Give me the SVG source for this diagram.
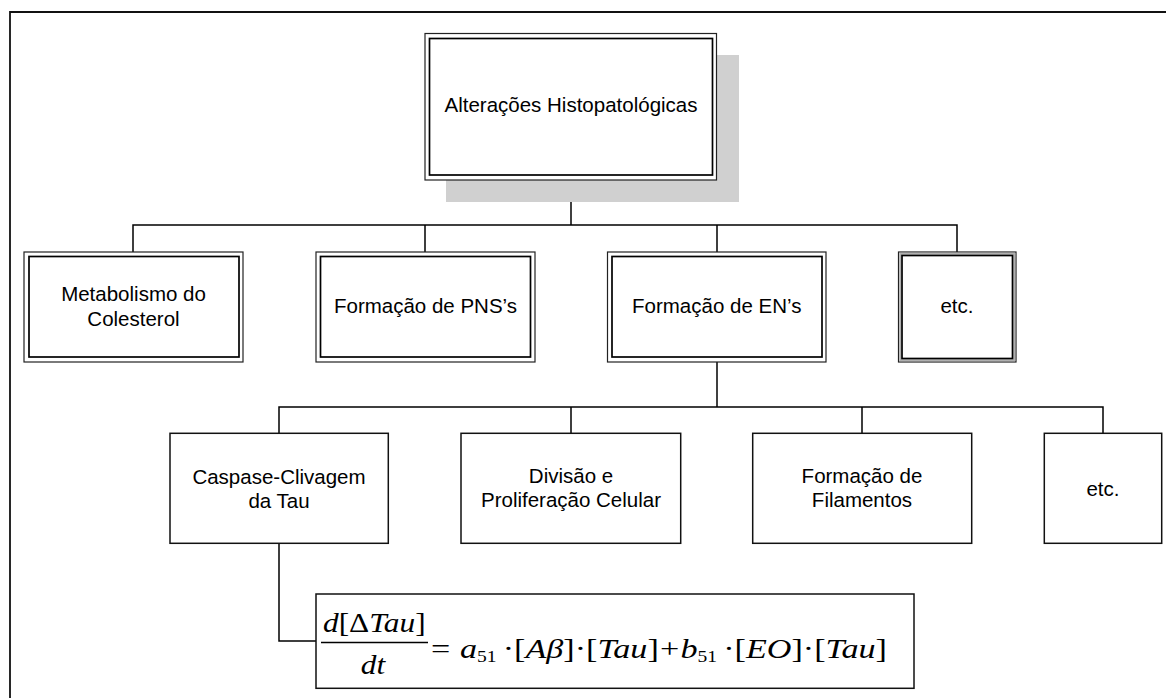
<svg xmlns="http://www.w3.org/2000/svg" width="1166" height="698" viewBox="0 0 1166 698">
<defs>
<style>
.lbl{font-family:"Liberation Sans",Arial,sans-serif;font-size:20.5px;fill:#000;text-anchor:middle}
.o{fill:#fff;stroke:#222;stroke-width:1.2}
.i{fill:none;stroke:#000;stroke-width:1.7}
.s{fill:#fff;stroke:#111;stroke-width:1.5}
.c{fill:none;stroke:#000;stroke-width:1.5}
.eq{font-family:"Liberation Serif","Times New Roman",serif;font-size:28px;fill:#000}
.it{font-style:italic}
.sub{font-size:16px}
</style>
</defs>
<rect width="1166" height="698" fill="#fff"/>
<path d="M10,698 V12 H1166" fill="none" stroke="#111" stroke-width="1.8"/>

<g id="connectors">
<path class="c" d="M571,180 V225" stroke-width="2"/>
<path class="c" d="M133,252 V225 H957 V252"/>
<path class="c" d="M425,225 V252 M717,225 V252"/>
<path class="c" d="M717,362 V407" stroke-width="2"/>
<path class="c" d="M279,433 V407 H1103 V433"/>
<path class="c" d="M571,407 V433 M862,407 V433"/>
<path class="c" d="M279,543 V641 H316"/>
</g>

<g id="n-alteracoes">
<rect x="446" y="55" width="293" height="147" fill="#d0d0d0"/>
<rect class="o" x="425" y="33.5" width="291.5" height="146.5" stroke-width="1.5"/>
<rect class="i" x="429.5" y="38.5" width="283" height="136.5" stroke-width="2"/>
<text class="lbl" x="571" y="112">Alterações Histopatológicas</text>
</g>

<g id="n-metabolismo">
<rect class="o" x="24" y="252" width="219" height="110"/>
<rect class="i" x="29" y="256.5" width="210" height="100.5"/>
<text class="lbl" x="133.5" y="300.5">Metabolismo do</text>
<text class="lbl" x="133.5" y="325.5">Colesterol</text>
</g>

<g id="n-pns">
<rect class="o" x="316" y="252" width="219" height="110"/>
<rect class="i" x="320.5" y="256.5" width="210" height="100.5"/>
<text class="lbl" x="425.5" y="313">Formação de PNS’s</text>
</g>

<g id="n-ens">
<rect class="o" x="607.5" y="252" width="218.5" height="110"/>
<rect class="i" x="612" y="256.5" width="210" height="100.5"/>
<text class="lbl" x="716.7" y="313">Formação de EN’s</text>
</g>

<g id="n-etc1">
<rect class="o" x="898.5" y="252" width="117.5" height="110"/>
<rect x="900.3" y="253.8" width="113.9" height="106.4" fill="none" stroke="#b0b0b0" stroke-width="2"/>
<rect class="i" x="902" y="255.5" width="110.5" height="103" stroke-width="1.4"/>
<text class="lbl" x="957" y="313">etc.</text>
</g>

<g id="n-caspase">
<rect class="s" x="170" y="433.3" width="218.3" height="110"/>
<text class="lbl" x="279" y="484">Caspase-Clivagem</text>
<text class="lbl" x="279" y="508">da Tau</text>
</g>

<g id="n-divisao">
<rect class="s" x="461" y="433.3" width="219.7" height="110"/>
<text class="lbl" x="571" y="482.5">Divisão e</text>
<text class="lbl" x="571" y="507">Proliferação Celular</text>
</g>

<g id="n-filamentos">
<rect class="s" x="752.7" y="433.3" width="219" height="110"/>
<text class="lbl" x="862" y="483">Formação de</text>
<text class="lbl" x="862" y="507">Filamentos</text>
</g>

<g id="n-etc2">
<rect class="s" x="1044.3" y="433.3" width="117.4" height="110"/>
<text class="lbl" x="1103" y="496">etc.</text>
</g>

<g id="n-equation">
<rect class="s" x="316" y="594" width="598" height="94.3"/>
<line x1="321" y1="642.5" x2="428" y2="642.5" stroke="#000" stroke-width="1.3"/>
<g transform="translate(323,0) scale(1.12,1)">
<text class="eq" x="0" y="632.5"><tspan class="it">d</tspan>[Δ<tspan class="it">Tau</tspan>]</text>
<text class="eq" x="44.6" y="674" text-anchor="middle"><tspan class="it">dt</tspan></text>
</g>
<g transform="translate(431,0) scale(1.22,1)">
<text class="eq" x="0" y="658">=<tspan class="it" dx="8">a</tspan><tspan class="sub" dy="4">51</tspan><tspan dx="5" dy="-4">·[</tspan><tspan class="it">Aβ</tspan>]·[<tspan class="it">Tau</tspan>]<tspan dx="1">+</tspan><tspan class="it" dx="1">b</tspan><tspan class="sub" dy="4">51</tspan><tspan dx="5" dy="-4">·[</tspan><tspan class="it">EO</tspan>]·[<tspan class="it">Tau</tspan>]</text>
</g>
</g>
</svg>
